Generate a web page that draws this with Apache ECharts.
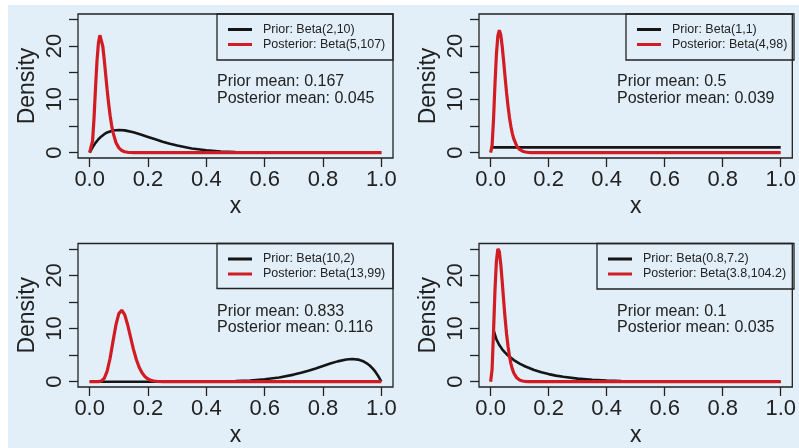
<!DOCTYPE html>
<html>
<head>
<meta charset="utf-8">
<script src="https://cdn.jsdelivr.net/npm/echarts@6/dist/echarts.min.js"></script>
<style>
html,body{margin:0;padding:0;background:#ffffff;}
#bg{position:absolute;left:8px;top:5px;width:791px;height:443px;background:#e2eff9;}
#chart{position:absolute;left:0;top:0;width:799px;height:448px;}
</style>
</head>
<body>
<div id="bg"></div>
<div id="chart"></div>
<script>
// ---------- data ----------
const xTicks = [0, 0.2, 0.4, 0.6, 0.8, 1.0];
const yTicks = [0, 5, 10, 15, 20, 25];
const yTickLabels = [0, 10, 20];

const priorNames = ['Prior: Beta(2,10)', 'Prior: Beta(1,1)', 'Prior: Beta(10,2)', 'Prior: Beta(0.8,7.2)'];
const postNames = ['Posterior: Beta(5,107)', 'Posterior: Beta(4,98)', 'Posterior: Beta(13,99)', 'Posterior: Beta(3.8,104.2)'];
const priorMeans = ['0.167', '0.5', '0.833', '0.1'];
const postMeans = ['0.045', '0.039', '0.116', '0.035'];

// panel 1
const prior1X = [0,0.01,0.02,0.03,0.04,0.05,0.06,0.08,0.1,0.12,0.15,0.175,0.2,0.225,0.25,0.275,0.3,0.35,0.4,0.45,0.5,0.55,0.6,0.7,0.8,0.9,1];
const prior1Y = [0,1.005,1.834,2.509,3.047,3.466,3.782,4.155,4.262,4.178,3.821,3.408,2.953,2.496,2.065,1.674,1.332,0.797,0.443,0.228,0.107,0.046,0.017,0.002,0,0,0];
const post1X = [0,0.005,0.01,0.015,0.02,0.025,0.03,0.035,0.04,0.045,0.05,0.055,0.06,0.065,0.07,0.075,0.08,0.09,0.1,0.11,0.12,0.13,0.14,0.15,0.16,0.2,0.3,0.4,0.5,0.6,0.7,0.8,0.9,1];
const post1Y = [0,0.235,2.208,6.537,12.04,17.10,20.56,22.03,21.66,19.95,17.43,14.59,11.77,9.21,7.02,5.22,3.81,1.91,0.90,0.41,0.17,0.07,0.03,0.01,0.004,0,0,0,0,0,0,0,0,0];

// panel 2
const prior2X = [0, 1];
const prior2Y = [1, 1];
const post2X = [0,0.005,0.01,0.015,0.02,0.025,0.03,0.035,0.04,0.045,0.05,0.055,0.06,0.065,0.07,0.075,0.08,0.09,0.1,0.11,0.12,0.13,0.14,0.15,0.16,0.2,0.3,0.4,0.5,0.6,0.7,0.8,0.9,1];
const post2Y = [0,1.255,6.161,12.73,18.41,21.89,22.98,22.10,19.93,17.10,14.10,11.25,8.73,6.61,4.91,3.58,2.57,1.27,0.60,0.27,0.12,0.05,0.02,0.008,0.003,0,0,0,0,0,0,0,0,0];

// panel 3
const prior3X = [0,0.1,0.2,0.3,0.4,0.45,0.5,0.55,0.6,0.65,0.7,0.725,0.75,0.775,0.8,0.825,0.85,0.88,0.9,0.92,0.94,0.95,0.96,0.97,0.98,0.99,1];
const prior3Y = [0,0,0,0.002,0.017,0.046,0.107,0.228,0.443,0.797,1.332,1.674,2.065,2.496,2.953,3.408,3.821,4.178,4.262,4.155,3.782,3.466,3.047,2.509,1.834,1.005,0];
const post3X = [0,0.01,0.02,0.03,0.04,0.05,0.06,0.07,0.08,0.09,0.1,0.11,0.12,0.13,0.14,0.15,0.16,0.17,0.18,0.19,0.2,0.21,0.22,0.23,0.24,0.25,0.3,0.4,0.5,0.6,0.7,0.8,0.9,1];
const post3Y = [0,0,0.0002,0.0105,0.120,0.625,1.976,4.406,7.583,10.68,12.80,13.44,12.62,10.76,8.43,6.13,4.17,2.67,1.62,0.93,0.51,0.27,0.13,0.064,0.030,0.013,0,0,0,0,0,0,0,0];

// panel 4
const prior4X = [0.01,0.02,0.03,0.04,0.05,0.06,0.08,0.1,0.12,0.15,0.175,0.2,0.225,0.25,0.3,0.35,0.4,0.45,0.5,0.6,0.7,0.8,0.9,1];
const prior4Y = [9.728,7.952,6.881,6.092,5.460,4.930,4.073,3.399,2.851,2.199,1.772,1.426,1.144,0.914,0.575,0.352,0.209,0.119,0.064,0.016,0.003,0,0,0];
const post4X = [0,0.005,0.01,0.015,0.02,0.025,0.03,0.035,0.04,0.045,0.05,0.055,0.06,0.065,0.07,0.075,0.08,0.09,0.1,0.11,0.12,0.13,0.14,0.15,0.16,0.2,0.3,0.4,0.5,0.6,0.7,0.8,0.9,1];
const post4Y = [0,2.243,9.286,17.14,22.68,24.99,24.49,22.13,18.81,15.26,11.93,9.03,6.67,4.81,3.40,2.37,1.62,0.73,0.31,0.13,0.05,0.02,0.007,0.003,0.001,0,0,0,0,0,0,0,0,0];

const priorXs = [prior1X, prior2X, prior3X, prior4X];
const priorYs = [prior1Y, prior2Y, prior3Y, prior4Y];
const postXs = [post1X, post2X, post3X, post4X];
const postYs = [post1Y, post2Y, post3Y, post4Y];

// ---------- layout / style ----------
const FONT = 'Liberation Sans';
const INK = '#222222';
const BLACK = '#151515';
const RED = '#d21c24';
const panelPos = [
  {left: 78, top: 14},
  {left: 479, top: 14},
  {left: 78, top: 243.5},
  {left: 479, top: 243.5}
];
const PW = 315, PH = 144;
const legendBox = [
  {x: 217, w: 176, h: 46},
  {x: 626, w: 168, h: 46},
  {x: 217, w: 176, h: 45},
  {x: 597, w: 197, h: 45.5}
];
const legendLeft = [228, 637, 228, 608];
const meanLeft = [217, 617, 217, 617];

const zip = (xs, ys) => xs.map((x, i) => [x, ys[i]]);

const grids = [], xAxes = [], yAxes = [], series = [], legends = [], graphics = [];
for (let i = 0; i < 4; i++) {
  const p = panelPos[i];
  grids.push({left: p.left, top: p.top, width: PW, height: PH, show: true,
    borderColor: INK, borderWidth: 1.3, backgroundColor: 'transparent', containLabel: false});
  xAxes.push({
    type: 'value', gridIndex: i, min: -0.04, max: 1.04,
    name: 'x', nameLocation: 'middle', nameGap: 37,
    nameTextStyle: {fontFamily: FONT, fontSize: 23, color: INK},
    axisLine: {show: false, onZero: false},
    splitLine: {show: false},
    axisTick: {show: true, length: 9, customValues: xTicks, lineStyle: {color: INK, width: 1.3}},
    axisLabel: {show: true, customValues: xTicks, margin: 11, fontFamily: FONT, fontSize: 22, color: INK,
      formatter: v => Number(v).toFixed(1)}
  });
  yAxes.push({
    type: 'value', gridIndex: i, min: -1, max: 26,
    name: 'Density', nameLocation: 'middle', nameGap: 39, nameRotate: 90,
    nameTextStyle: {fontFamily: FONT, fontSize: 23, color: INK},
    axisLine: {show: false, onZero: false},
    splitLine: {show: false},
    axisTick: {show: true, length: 9, customValues: yTicks, lineStyle: {color: INK, width: 1.3}},
    axisLabel: {show: true, customValues: yTickLabels, rotate: 90, margin: 12, fontFamily: FONT, fontSize: 22, color: INK}
  });
  series.push({
    name: priorNames[i], type: 'line', xAxisIndex: i, yAxisIndex: i,
    data: zip(priorXs[i], priorYs[i]), showSymbol: false, symbol: 'none',
    lineStyle: {color: BLACK, width: 2.6}, itemStyle: {color: BLACK}, z: 2
  });
  series.push({
    name: postNames[i], type: 'line', xAxisIndex: i, yAxisIndex: i,
    data: zip(postXs[i], postYs[i]), showSymbol: false, symbol: 'none',
    lineStyle: {color: RED, width: 3.2}, itemStyle: {color: RED}, z: 3
  });
  legends.push({
    data: [priorNames[i], postNames[i]], orient: 'vertical',
    left: legendLeft[i], top: p.top + 8, padding: 0, itemGap: 0,
    itemWidth: 24, itemHeight: 3, icon: 'rect', selectedMode: false,
    textStyle: {fontFamily: FONT, fontSize: 12.5, color: INK, lineHeight: 15, padding: [0, 0, 0, 6]}
  });
  const lb = legendBox[i];
  graphics.push({type: 'rect', shape: {x: lb.x, y: p.top, width: lb.w, height: lb.h},
    style: {fill: 'transparent', stroke: INK, lineWidth: 1.3}, silent: true});
  graphics.push({type: 'text', x: meanLeft[i], y: p.top + 67.7,
    style: {text: 'Prior mean: ' + priorMeans[i], fill: INK, font: '16px "' + FONT + '"', textVerticalAlign: 'middle'}});
  graphics.push({type: 'text', x: meanLeft[i], y: p.top + 84.2,
    style: {text: 'Posterior mean: ' + postMeans[i], fill: INK, font: '16px "' + FONT + '"', textVerticalAlign: 'middle'}});
}

const chart = echarts.init(document.getElementById('chart'), null, {renderer: 'canvas'});
chart.setOption({
  backgroundColor: 'transparent',
  animation: false,
  grid: grids, xAxis: xAxes, yAxis: yAxes, series: series, legend: legends,
  graphic: graphics
});
</script>
</body>
</html>
